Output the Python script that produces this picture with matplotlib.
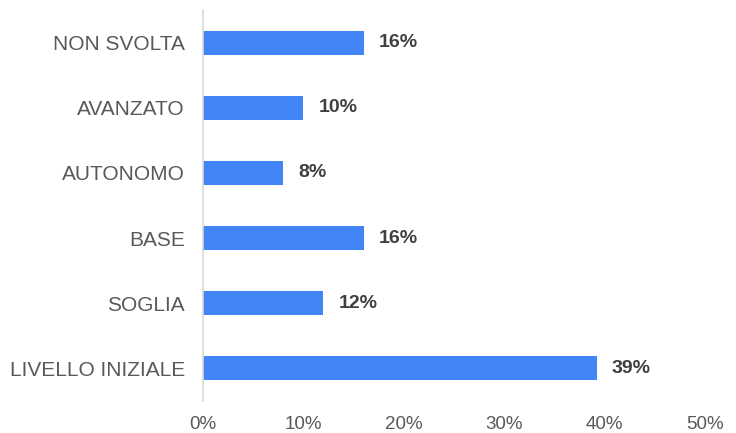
import matplotlib.pyplot as plt

# Data
categories = ["NON SVOLTA", "AVANZATO", "AUTONOMO", "BASE", "SOGLIA", "LIVELLO INIZIALE"]
values = [16, 10, 8, 16, 12, 39.2]
xticks = [0, 10, 20, 30, 40, 50]

plt.rcParams['font.family'] = ['Liberation Sans', 'DejaVu Sans']

fig = plt.figure(figsize=(7.36, 4.33), dpi=100)
ax = fig.add_axes([203 / 736, 1 - 401 / 433, 502 / 736, 391 / 433])

ypos = list(range(len(categories)))[::-1]
ax.barh(ypos, values, height=0.37, color='#4285F4')

for y, v in zip(ypos, values):
    ax.text(v + 1.5, y, f"{v:.0f}%", va='center', ha='left',
            fontsize=14, fontweight='bold', color='#404040')

ax.set_yticks(ypos)
ax.set_yticklabels(categories)
ax.set_ylim(-0.5, 5.5)
ax.set_xlim(0, 50)
ax.set_xticks(xticks)
ax.set_xticklabels([f"{t}%" for t in xticks])

ax.tick_params(axis='both', length=0, labelcolor='#595959')
ax.tick_params(axis='x', pad=11, labelsize=13.5)
ax.tick_params(axis='y', pad=13, labelsize=15)

for s in ['top', 'right', 'bottom']:
    ax.spines[s].set_visible(False)
ax.spines['left'].set_color('#d9d9d9')
ax.spines['left'].set_linewidth(1.2)

fig.savefig('out.png', dpi=100)
